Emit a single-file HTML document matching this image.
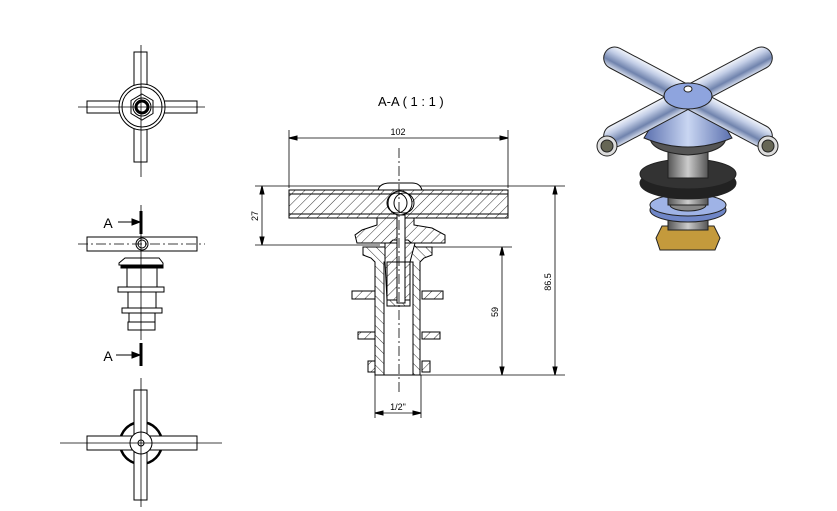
<!DOCTYPE html>
<html><head><meta charset="utf-8"><style>
html,body{margin:0;padding:0;background:#fff}
svg{display:block}
text{font-family:"Liberation Sans",sans-serif;fill:#000}
</style></head><body>
<svg width="837" height="511" viewBox="0 0 837 511" xmlns="http://www.w3.org/2000/svg">
<defs>
<pattern id="h" patternUnits="userSpaceOnUse" width="7" height="7" patternTransform="rotate(45)">
<rect width="7" height="7" fill="#fff"/><line x1="0" y1="0" x2="0" y2="7" stroke="#000" stroke-width="0.8"/></pattern>
<pattern id="h2" patternUnits="userSpaceOnUse" width="7" height="7" patternTransform="rotate(-45)">
<rect width="7" height="7" fill="#fff"/><line x1="0" y1="0" x2="0" y2="7" stroke="#000" stroke-width="0.8"/></pattern>
<linearGradient id="bar" x1="0" y1="0" x2="0" y2="1"><stop offset="0" stop-color="#f2f5fb"/><stop offset=".3" stop-color="#c2cde6"/><stop offset=".7" stop-color="#7083ad"/><stop offset="1" stop-color="#d8dfee"/></linearGradient>
<linearGradient id="cone" x1="0" y1="0" x2="1" y2="0"><stop offset="0" stop-color="#5a6fae"/><stop offset=".5" stop-color="#c9d6f2"/><stop offset="1" stop-color="#5a6fae"/></linearGradient>
<linearGradient id="thr" x1="0" y1="0" x2="1" y2="0"><stop offset="0" stop-color="#555"/><stop offset=".5" stop-color="#ccc"/><stop offset="1" stop-color="#555"/></linearGradient>
</defs>
<g fill="none" stroke="#000" stroke-width="1">
<!-- top view -->
<rect x="134" y="52" width="13" height="110" fill="#fff"/>
<rect x="87" y="101" width="110" height="12" fill="#fff"/>
<circle cx="142" cy="107" r="23" fill="#fff"/><circle cx="142" cy="107" r="20"/>
<polygon points="142,94 153,100.5 153,113.5 142,120 131,113.5 131,100.5" fill="#fff"/>
<circle cx="142" cy="107" r="9"/><circle cx="142" cy="107" r="6" stroke-width="3"/>
<line x1="141" y1="45" x2="141" y2="177" stroke-width=".8"/>
<line x1="78" y1="107" x2="205" y2="107" stroke-width=".8"/>
<!-- side view -->
<rect x="87" y="237" width="110" height="14" fill="#fff"/>
<line x1="78" y1="244" x2="205" y2="244" stroke-dasharray="10,3,2,3" stroke-width=".8"/>
<circle cx="142" cy="244" r="6"/><circle cx="142" cy="244" r="4"/>
<polygon points="125,258 159,258 163,263 163,265 119,265 119,263" fill="#fff"/>
<rect x="121" y="265" width="42" height="3" fill="#000"/>
<rect x="127" y="268" width="30" height="19" fill="#fff"/>
<rect x="118" y="287" width="46" height="5" fill="#fff"/>
<rect x="128" y="292" width="28" height="16" fill="#fff"/>
<rect x="122" y="308" width="40" height="5" fill="#fff"/>
<rect x="129" y="313" width="26" height="9" fill="#fff"/>
<rect x="128" y="322" width="27" height="8" fill="#fff"/>
<line x1="141" y1="205" x2="141" y2="340" stroke-width=".8"/>
<line x1="141" y1="211" x2="141" y2="234" stroke-width="3"/>
<line x1="118" y1="222" x2="132" y2="222"/><polygon points="132,219 140,222 132,225" fill="#000"/>
<line x1="141" y1="343" x2="141" y2="366" stroke-width="3"/>
<line x1="116" y1="355" x2="132" y2="355"/><polygon points="132,352 140,355 132,358" fill="#000"/>
<!-- bottom view -->
<circle cx="141" cy="443" r="21" stroke-width="2.5"/>
<rect x="134" y="390" width="13" height="110" fill="#fff"/>
<rect x="87" y="436" width="110" height="14" fill="#fff"/>
<circle cx="141" cy="443" r="11" fill="#fff"/><circle cx="141" cy="443" r="3"/>
<line x1="60" y1="443" x2="222" y2="443" stroke-width=".8"/>
<line x1="141" y1="378" x2="141" y2="507" stroke-width=".8"/>
<!-- section view -->
<line x1="289" y1="130" x2="289" y2="188" stroke-width=".8"/>
<line x1="508" y1="130" x2="508" y2="188" stroke-width=".8"/>
<line x1="289" y1="138" x2="508" y2="138" stroke-width=".8"/>
<polygon points="289,138 297,136 297,140" fill="#000"/><polygon points="508,138 500,136 500,140" fill="#000"/>
<line x1="255" y1="186" x2="565" y2="186" stroke-width=".8"/>
<path d="M378,190 Q380,183 390,183 L412,183 Q420,183 422,190" fill="#fff"/>
<rect x="289" y="190" width="219" height="28" fill="url(#h)"/>
<line x1="289" y1="194" x2="508" y2="194"/><line x1="289" y1="214" x2="508" y2="214"/>
<circle cx="400" cy="203" r="12" fill="#fff"/><circle cx="397" cy="203" r="10"/><circle cx="404" cy="203" r="10"/>
<line x1="255" y1="245" x2="380" y2="245" stroke-width=".8"/>
<line x1="262" y1="186" x2="262" y2="245" stroke-width=".8"/>
<polygon points="262,186 260,194 264,194" fill="#000"/><polygon points="262,245 260,237 264,237" fill="#000"/>
<polygon points="377,218 377,225 362,230 355,235 357,243 414,243 445,243 445,235 432,228 414,225 414,218" fill="url(#h)"/>
<polygon points="363,247 385,247 393,240 408,240 416,247 432,247 432,255 424,258 420,262 420,375 413,375 413,262 410,262 410,306 387,306 387,262 384,262 384,375 375,375 375,262 371,258 363,255" fill="url(#h2)"/>
<polygon points="385,243 415,243 410,262 410,300 387,300 385,262" fill="url(#h)"/>
<rect x="397" y="215" width="8" height="88" fill="#fff"/>
<rect x="387" y="262" width="23" height="44" fill="none"/>
<line x1="384" y1="375" x2="413" y2="375"/>
<rect x="352" y="291" width="23" height="8" fill="url(#h)"/><rect x="422" y="291" width="21" height="8" fill="url(#h)"/>
<rect x="358" y="332" width="17" height="7" fill="url(#h)"/><rect x="422" y="332" width="18" height="7" fill="url(#h)"/>
<rect x="368" y="361" width="7" height="11" fill="url(#h)"/><rect x="422" y="361" width="8" height="11" fill="url(#h)"/>
<line x1="399" y1="148" x2="399" y2="392" stroke-dasharray="10,3,2,3" stroke-width=".8"/>
<line x1="420" y1="247" x2="512" y2="247" stroke-width=".8"/>
<line x1="420" y1="375" x2="565" y2="375" stroke-width=".8"/>
<line x1="502" y1="247" x2="502" y2="375" stroke-width=".8"/>
<polygon points="502,247 500,255 504,255" fill="#000"/><polygon points="502,375 500,367 504,367" fill="#000"/>
<line x1="555" y1="186" x2="555" y2="375" stroke-width=".8"/>
<polygon points="555,186 553,194 557,194" fill="#000"/><polygon points="555,375 553,367 557,367" fill="#000"/>
<line x1="375" y1="375" x2="375" y2="418" stroke-width=".8"/><line x1="421" y1="375" x2="421" y2="418" stroke-width=".8"/>
<line x1="375" y1="413" x2="421" y2="413" stroke-width=".8"/>
<polygon points="375,413 383,411 383,415" fill="#000"/><polygon points="421,413 413,411 413,415" fill="#000"/>
</g>
<text x="108" y="228" font-size="14" text-anchor="middle">A</text>
<text x="108" y="361" font-size="14" text-anchor="middle">A</text>
<text x="378" y="106" font-size="13">A-A ( 1 : 1 )</text>
<text x="398" y="135" font-size="9" text-anchor="middle">102</text>
<text x="258" y="216" font-size="9" text-anchor="middle" transform="rotate(-90 258 216)">27</text>
<text x="498" y="312" font-size="9" text-anchor="middle" transform="rotate(-90 498 312)">59</text>
<text x="551" y="282" font-size="9" text-anchor="middle" transform="rotate(-90 551 282)">86.5</text>
<text x="398" y="410" font-size="9" text-anchor="middle">1/2"</text>
<!-- 3D render -->
<g stroke="#222" stroke-width="1">
<polygon points="660,250 715,250 720,238 714,226 662,226 656,238" fill="#c49a3c"/>
<rect x="668" y="205" width="40" height="25" fill="url(#thr)"/>
<ellipse cx="688" cy="210" rx="38" ry="12" fill="#6f86c7"/>
<ellipse cx="688" cy="205" rx="38" ry="11" fill="#9fb3e6"/>
<ellipse cx="688" cy="205" rx="18" ry="6" fill="#888"/>
<rect x="668" y="155" width="40" height="50" fill="url(#thr)"/>
<ellipse cx="688" cy="183" rx="48" ry="16" fill="#222"/>
<ellipse cx="688" cy="174" rx="48" ry="15" fill="#333"/>
<rect x="668" y="150" width="40" height="28" fill="url(#thr)"/>
<path d="M650,135 L726,135 Q728,152 688,155 Q648,152 650,135 Z" fill="#555"/>
<path d="M662,108 L714,108 L732,138 Q688,156 644,138 Z" fill="url(#cone)"/>
<g transform="rotate(28 688 97)"><rect x="594" y="86" width="188" height="22" rx="11" fill="url(#bar)"/></g>
<g transform="rotate(-28 688 97)"><rect x="594" y="86" width="188" height="22" rx="11" fill="url(#bar)"/></g>
<ellipse cx="607" cy="146" rx="10" ry="10" fill="#ddd"/><ellipse cx="607" cy="146" rx="6" ry="6" fill="#665"/>
<ellipse cx="768" cy="146" rx="10" ry="10" fill="#ddd"/><ellipse cx="768" cy="146" rx="6" ry="6" fill="#665"/>
<ellipse cx="688" cy="96" rx="24" ry="13" fill="#8ea4de"/>
<ellipse cx="688" cy="89" rx="4" ry="3" fill="#fff"/>
</g>
</svg>
</body></html>
